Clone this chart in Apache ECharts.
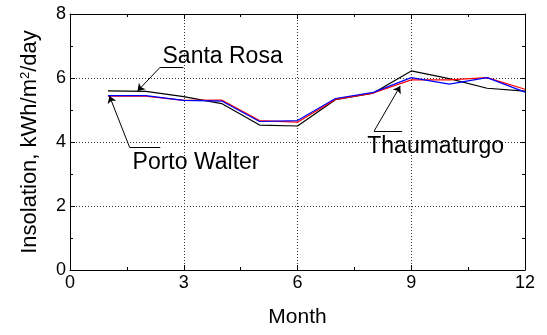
<!DOCTYPE html>
<html><head><meta charset="utf-8">
<script src="https://cdn.jsdelivr.net/npm/echarts@6/dist/echarts.min.js"></script>
<style>html,body{margin:0;padding:0;background:#fff}#c{width:547px;height:335px}</style>
</head><body><div id="c"></div>
<script>
const months = [1,2,3,4,5,6,7,8,9,10,11,12];
const santaRosa   = [5.60,5.58,5.42,5.20,4.53,4.50,5.32,5.53,6.22,5.98,5.68,5.59];
const portoWalter = [5.45,5.45,5.30,5.28,4.64,4.67,5.36,5.55,6.01,5.81,6.01,5.56];
const thaumaturgo = [5.43,5.43,5.30,5.31,4.67,4.62,5.33,5.53,5.94,5.94,6.01,5.65];
const xTicks = [0,3,6,9,12];
const yTicks = [0,2,4,6,8];
// annotation labels: [text, x, y] in data units
const labels = [["Santa Rosa",2.44,6.66],["Porto Walter",1.65,3.34],["Thaumaturgo",7.84,3.84]];
// leader lines: [x1,y1,x2,y2,arrow]
const leaders = [
  [2.38,6.34,2.99,6.34,false],[2.38,6.34,1.78,5.59,true],
  [1.57,3.84,2.38,3.84,false],[1.57,3.84,1.04,5.44,true],
  [8.02,4.34,8.76,4.34,false],[8.02,4.34,8.71,5.75,true]
];
const FONT = 'Liberation Sans, Arial, sans-serif';
const chart = echarts.init(document.getElementById('c'));
const pair = arr => months.map((m,i)=>[m,arr[i]]);
const axisCommon = {
  axisLine:{show:true,onZero:false,lineStyle:{color:'#000',width:1}},
  axisTick:{show:true,inside:true,length:5,lineStyle:{color:'#000'}},
  minorTick:{show:true,splitNumber:2,length:3,lineStyle:{color:'#000'}},
};
chart.setOption({
  animation:false,
  grid:{left:70,right:22,top:14,bottom:65,containLabel:false},
  xAxis:[
    Object.assign({type:'value',min:xTicks[0],max:xTicks[xTicks.length-1],interval:3,position:'bottom',
      name:'Month',nameLocation:'middle',nameGap:37,
      nameTextStyle:{fontFamily:FONT,fontSize:21,color:'#000'},
      axisLabel:{fontFamily:FONT,fontSize:18,color:'#000',margin:4},
      splitLine:{show:true,lineStyle:{color:'#333',type:[1,2],width:1}}},axisCommon),
    Object.assign({type:'value',min:0,max:12,interval:3,position:'top',axisLabel:{show:false},splitLine:{show:false}},axisCommon)
  ],
  yAxis:[
    Object.assign({type:'value',min:yTicks[0],max:yTicks[yTicks.length-1],interval:2,position:'left',
      name:'Insolation, kWh/m{s|2}/day',nameLocation:'middle',nameGap:29,
      nameTextStyle:{fontFamily:FONT,fontSize:22,color:'#000',rich:{s:{fontFamily:FONT,fontSize:13,verticalAlign:'top',padding:[0,0,9,0]}}},
      axisLabel:{fontFamily:FONT,fontSize:18,color:'#000',margin:4},
      splitLine:{show:true,lineStyle:{color:'#333',type:[1,2],width:1}}},axisCommon),
    Object.assign({type:'value',min:0,max:8,interval:2,position:'right',axisLabel:{show:false},splitLine:{show:false}},axisCommon)
  ],
  series:[
    {name:'Santa Rosa',type:'line',data:pair(santaRosa),showSymbol:false,lineStyle:{color:'#000',width:1.2},z:3,
     markLine:{silent:true,symbolSize:7,label:{show:false},lineStyle:{color:'#000',width:1,type:'solid'},
       data:leaders.map(l=>[{coord:[l[0],l[1]],symbol:'none'},{coord:[l[2],l[3]],symbol:l[4]?'arrow':'none'}])},
     markPoint:{silent:true,symbol:'rect',symbolSize:0,
       data:labels.map(l=>({coord:[l[1],l[2]],value:l[0],label:{show:true,position:'right',distance:0,formatter:l[0],fontFamily:FONT,fontSize:23,color:'#000'}}))}},
    {name:'Thaumaturgo',type:'line',data:pair(thaumaturgo),showSymbol:false,lineStyle:{color:'#ff0000',width:1.2},z:4},
    {name:'Porto Walter',type:'line',data:pair(portoWalter),showSymbol:false,lineStyle:{color:'#0000ff',width:1.2},z:5}
  ]
});
</script></body></html>
